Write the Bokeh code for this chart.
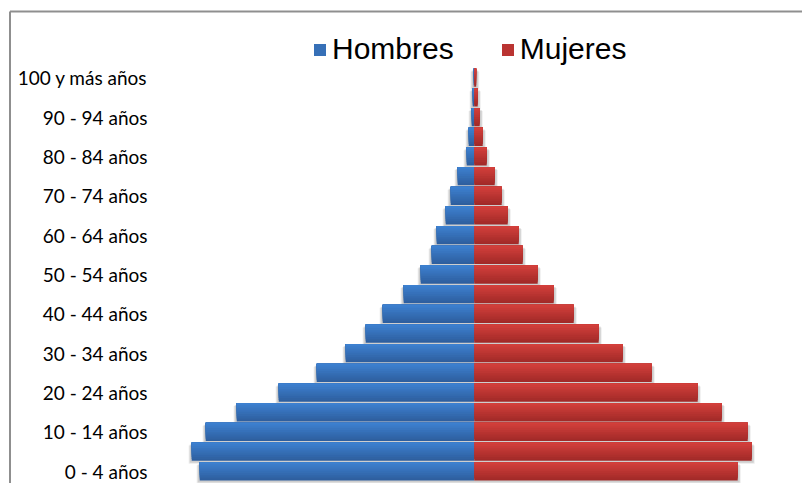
from bokeh.plotting import figure
from bokeh.models import Range1d, Legend, LegendItem, ColumnDataSource
from bokeh.core.properties import value
from bokeh.embed import file_html
from bokeh.resources import INLINE

# Age groups from youngest (bottom) to oldest (top)
age_groups = ["0 - 4 años", "5 - 9 años", "10 - 14 años", "15 - 19 años", "20 - 24 años",
              "25 - 29 años", "30 - 34 años", "35 - 39 años", "40 - 44 años", "45 - 49 años",
              "50 - 54 años", "55 - 59 años", "60 - 64 años", "65 - 69 años", "70 - 74 años",
              "75 - 79 años", "80 - 84 años", "85 - 89 años", "90 - 94 años", "95 - 99 años",
              "100 y más años"]
# Percent of population
hombres = [5.49, 5.65, 5.37, 4.75, 3.91, 3.15, 2.57, 2.17, 1.83, 1.41, 1.07, 0.85, 0.75,
           0.57, 0.47, 0.33, 0.15, 0.11, 0.05, 0.03, 0.01]
mujeres = [5.27, 5.55, 5.47, 4.95, 4.47, 3.55, 2.97, 2.49, 1.99, 1.59, 1.27, 0.97, 0.89,
           0.67, 0.55, 0.41, 0.25, 0.17, 0.11, 0.07, 0.04]
shown_labels = [g if i % 2 == 0 else "" for i, g in enumerate(age_groups)]

W, H = 802, 483
PX_Y = 19.68  # px per category unit
PX_X = 0.02   # data units per px
X0 = -473.7 * PX_X
X1 = X0 + W * PX_X
Y1 = 470.8 / PX_Y
Y0 = Y1 - H / PX_Y

p = figure(width=W, height=H, output_backend="svg", toolbar_location=None,
           x_range=Range1d(X0, X1), y_range=Range1d(Y0, Y1),
           x_axis_location=None, y_axis_location=None, min_border=0)
p.grid.visible = False
p.outline_line_color = None
p.background_fill_color = "white"
p.border_fill_color = "white"

idx = list(range(len(age_groups)))
neg_h = [-v for v in hombres]
BAR_H = 0.93

# soft shadows
for a, dy in [(0.08, 3.0), (0.12, 2.0)]:
    off = dy / PX_Y
    p.hbar(y=[i - off for i in idx], left=[v - dy * PX_X for v in neg_h], right=0,
           height=BAR_H, fill_color="black", fill_alpha=a, line_color=None)
    p.hbar(y=[i - off for i in idx], left=0, right=[v + dy * PX_X for v in mujeres],
           height=BAR_H, fill_color="black", fill_alpha=a, line_color=None)

def lerp(c1, c2, t):
    a = [int(c1[i:i + 2], 16) for i in (1, 3, 5)]
    b = [int(c2[i:i + 2], 16) for i in (1, 3, 5)]
    return "#%02x%02x%02x" % tuple(round(a[j] + (b[j] - a[j]) * t) for j in range(3))

blue_top, blue_bot = "#3d80cf", "#2e5f9f"
red_top, red_bot = "#d23f3b", "#a22a28"
N = 10
for s in range(N):
    t = s / (N - 1)          # 0 = bottom colour (full bar), 1 = top colour (thin top strip)
    h = BAR_H * (N - s) / N
    ys = [i + BAR_H / 2 - h / 2 for i in idx]
    p.hbar(y=ys, left=neg_h, right=0, height=h,
           fill_color=lerp(blue_bot, blue_top, t), line_color=None)
    p.hbar(y=ys, left=0, right=mujeres, height=h,
           fill_color=lerp(red_bot, red_top, t), line_color=None)

# legend proxies (mid colour)
lb = p.hbar(y=[0], left=[0], right=[0], height=0, fill_color=lerp(blue_top, blue_bot, 0.5), line_color=None)
lr = p.hbar(y=[0], left=[0], right=[0], height=0, fill_color=lerp(red_top, red_bot, 0.5), line_color=None)

# category labels
lab_x = X0 + 147 * PX_X
src = ColumnDataSource(dict(y=idx, t=shown_labels))
p.text(x=lab_x, y="y", text="t", source=src, text_align="right", text_baseline="middle",
       text_font=value("Lato"), text_font_size="19px", text_color="black")

# chart border (top and left edges visible, the rest is outside the picture)
bx = X0 + 9.5 * PX_X
by = Y1 - 11 / PX_Y
p.segment(x0=[bx, bx], y0=[by, by], x1=[X1 + 1, bx], y1=[by, Y0 - 1],
          line_color="#8f8f8f", line_width=2)

legend = Legend(items=[LegendItem(label="Hombres", renderers=[lb]),
                       LegendItem(label="Mujeres", renderers=[lr])],
                orientation="horizontal", location=(312, 417),
                label_text_font="Liberation Sans", label_text_font_size="30px",
                label_text_color="black",
                glyph_width=15, glyph_height=15, label_standoff=5, spacing=46,
                padding=0, margin=0, border_line_color=None, background_fill_alpha=0)
p.add_layout(legend)

open("out.html", "w").write(file_html(p, INLINE))
